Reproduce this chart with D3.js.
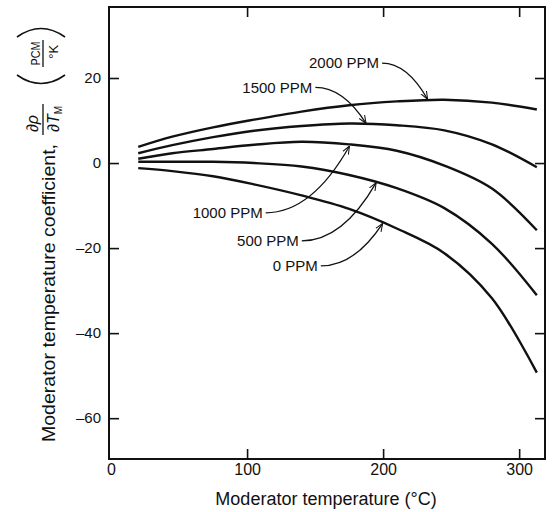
<!DOCTYPE html>
<html>
<head>
<meta charset="utf-8">
<script src="https://cdn.jsdelivr.net/npm/d3@7"></script>
<style>
body { margin: 0; background: #fff; }
svg { font-family: "Liberation Sans", Arial, Helvetica, sans-serif; }
</style>
</head>
<body>
<script>
const temps = [20, 45, 75, 105, 140, 175, 210, 245, 280, 313]

// moderator temperature coefficient (pcm/K) for each boron concentration
const ppm2000 = [3.8, 6.2, 8.4, 10.2, 12.1, 13.6, 14.5, 14.9, 14.2, 12.6]
const ppm1500 = [2.3, 4.2, 6.1, 7.6, 8.7, 9.3, 8.9, 7.7, 4.4, -1.0]
const ppm1000 = [1.0, 2.3, 3.3, 4.3, 5.0, 4.4, 2.9, -0.6, -6.0, -15.8]
const ppm500 = [0.3, 0.3, 0.3, 0.0, -0.8, -2.8, -5.9, -10.6, -19.0, -31.1]
const ppm0 = [-1.2, -1.9, -3.1, -5.0, -7.6, -10.8, -15.4, -21.2, -31.8, -49.3]

const labels = ["2000 PPM", "1500 PPM", "1000 PPM", "500 PPM", "0 PPM"]
// where each label sits and where its arrow points (data units)
const labelTemp = [197, 148, 111.5, 138, 152]
const labelValue = [23.5, 17.8, -11.7, -18.3, -24.2]
const tipTemp = [232.7, 187.5, 175.3, 194.9, 199.7]
const tipValue = [15.0, 9.3, 4.0, -4.6, -14.2]

const xTicks = [0, 100, 200, 300]
const yTicks = [20, 0, -20, -40, -60]

const series = [ppm2000, ppm1500, ppm1000, ppm500, ppm0]

var w = 559
var h = 512

var svg = d3.select("body").append("svg")
    .attr("width", w)
    .attr("height", h)

const x = d3.scaleLinear().domain([-1.5, 319]).range([109, 545])
const y = d3.scaleLinear().domain([-69.6, 36.7]).range([459, 7])

// arrow head, open V
svg.append("defs").append("marker")
    .attr("id", "arr")
    .attr("viewBox", "0 -5 10 10")
    .attr("refX", 10)
    .attr("refY", 0)
    .attr("markerUnits", "userSpaceOnUse")
    .attr("markerWidth", 8)
    .attr("markerHeight", 8)
    .attr("orient", "auto")
    .append("path")
    .attr("d", "M0,-4L10,0L0,4")
    .attr("fill", "none")
    .attr("stroke", "#111")
    .attr("stroke-width", 1.3)

// frame
svg.append("rect")
    .attr("x", 109).attr("y", 7)
    .attr("width", 436).attr("height", 452)
    .attr("fill", "none")
    .attr("stroke", "#111")
    .attr("stroke-width", 2)

const fmt = d => d < 0 ? "\u2013" + Math.abs(d) : d

// bottom axis
const xb = svg.append("g")
    .attr("transform", "translate(0,459)")
    .call(d3.axisBottom(x).tickValues(xTicks).tickSizeInner(-10).tickSizeOuter(0).tickPadding(5))
xb.selectAll("line").filter(d => d === 0).remove()
xb.selectAll("text").style("font-size", "16px")

// top axis
svg.append("g")
    .attr("transform", "translate(0,7)")
    .call(d3.axisTop(x).tickValues(xTicks.slice(1)).tickSizeInner(-10).tickSizeOuter(0).tickFormat(""))

// left axis
svg.append("g")
    .attr("transform", "translate(109,0)")
    .call(d3.axisLeft(y).tickValues(yTicks).tickSizeInner(-10).tickSizeOuter(0).tickPadding(8).tickFormat(fmt))
    .selectAll("text").style("font-size", "15px")

// right axis
svg.append("g")
    .attr("transform", "translate(545,0)")
    .call(d3.axisRight(y).tickValues(yTicks).tickSizeInner(-10).tickSizeOuter(0).tickFormat(""))

svg.selectAll(".domain").remove()
svg.selectAll(".tick line").attr("stroke", "#111").attr("stroke-width", 1.6)
svg.selectAll(".tick text").attr("fill", "#111")

// curves
const line = d3.line()
    .x((d, i) => x(temps[i]))
    .y(d => y(d))
    .curve(d3.curveCatmullRom.alpha(0.5))

svg.selectAll(".curve")
    .data(series)
    .enter()
    .append("path")
    .attr("class", "curve")
    .attr("d", line)
    .attr("fill", "none")
    .attr("stroke", "#111")
    .attr("stroke-width", 2.4)

// labels with arrows
labels.forEach((lab, i) => {
    const sx = x(labelTemp[i]) + 3
    const sy = y(labelValue[i])
    const tx = x(tipTemp[i])
    const ty = y(tipValue[i])
    const cx = sx + 0.55 * (tx - sx)
    svg.append("path")
        .attr("d", `M${sx},${sy}Q${cx},${sy} ${tx},${ty}`)
        .attr("fill", "none")
        .attr("stroke", "#111")
        .attr("stroke-width", 1.3)
        .attr("marker-end", "url(#arr)")
    svg.append("text")
        .attr("x", x(labelTemp[i]))
        .attr("y", y(labelValue[i]))
        .attr("dy", "0.35em")
        .attr("text-anchor", "end")
        .style("font-size", "15px")
        .attr("fill", "#111")
        .text(lab)
})

// x label
svg.append("text")
    .attr("x", 326)
    .attr("y", 505)
    .attr("text-anchor", "middle")
    .style("font-size", "18px")
    .attr("fill", "#111")
    .text("Moderator temperature (\u00B0C)")

// y label, rotated; coordinates are (-screenY, screenX)
const g = svg.append("g").attr("transform", "rotate(-90)").attr("fill", "#111")

g.append("text")
    .attr("x", -442).attr("y", 55)
    .attr("textLength", 298)
    .attr("lengthAdjust", "spacingAndGlyphs")
    .style("font-size", "19px")
    .text("Moderator temperature coefficient,")

g.append("text")
    .attr("x", -123.5).attr("y", 38)
    .attr("text-anchor", "middle")
    .style("font-size", "16px")
    .html("\u2202<tspan font-style='italic'>\u03C1</tspan>")

g.append("line")
    .attr("x1", -135).attr("x2", -104)
    .attr("y1", 43).attr("y2", 43)
    .attr("stroke", "#111").attr("stroke-width", 1.3)

g.append("text")
    .attr("x", -119).attr("y", 59)
    .attr("text-anchor", "middle")
    .style("font-size", "16px")
    .html("\u2202<tspan font-style='italic'>T</tspan><tspan dy='3' style='font-size:10px'>M</tspan>")

g.append("text")
    .attr("x", -53.5).attr("y", 40)
    .attr("text-anchor", "middle")
    .attr("textLength", 24)
    .attr("lengthAdjust", "spacingAndGlyphs")
    .style("font-size", "13px")
    .text("PCM")

g.append("line")
    .attr("x1", -67).attr("x2", -40)
    .attr("y1", 43).attr("y2", 43)
    .attr("stroke", "#111").attr("stroke-width", 1.3)

g.append("text")
    .attr("x", -51.7).attr("y", 58)
    .attr("text-anchor", "middle")
    .style("font-size", "13px")
    .text("\u00B0K")

// big thin parentheses round the unit, drawn as arcs
svg.append("path")
    .attr("d", "M17,75Q41,92 65,75")
    .attr("fill", "none").attr("stroke", "#111").attr("stroke-width", 1.6)
svg.append("path")
    .attr("d", "M17,37Q41,20 65,37")
    .attr("fill", "none").attr("stroke", "#111").attr("stroke-width", 1.6)
</script>
</body>
</html>
